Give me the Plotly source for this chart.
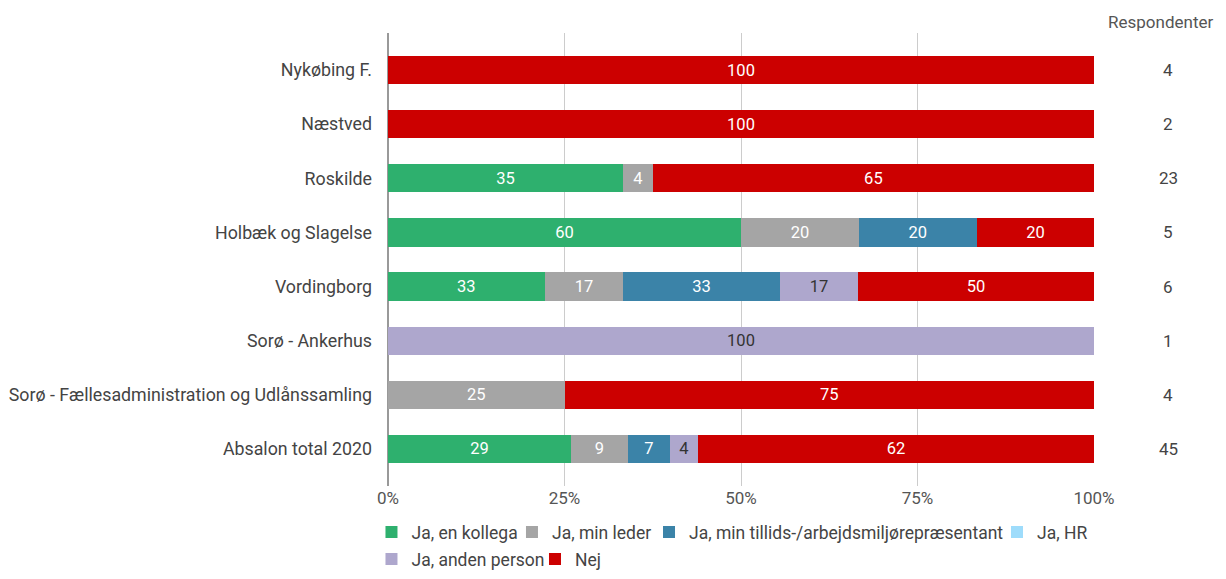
import plotly.graph_objects as go

# Categories (top to bottom)
units = ['Nykøbing F.', 'Næstved', 'Roskilde', 'Holbæk og Slagelse', 'Vordingborg',
         'Sorø - Ankerhus', 'Sorø - Fællesadministration og Udlånssamling', 'Absalon total 2020']
respondents = [4, 2, 23, 5, 6, 1, 4, 45]

# Bar widths (share of 100) as drawn
kollega = [0, 0, 33.3, 50.0, 22.2, 0, 0, 25.9]
leder = [0, 0, 4.2, 16.7, 11.1, 0, 25.0, 8.1]
tillid = [0, 0, 0, 16.7, 22.2, 0, 0, 5.9]
hr = [0, 0, 0, 0, 0, 0, 0, 0]
anden = [0, 0, 0, 0, 11.1, 100.0, 0, 4.0]
nej = [100.0, 100.0, 62.5, 16.6, 33.4, 0, 75.0, 56.1]

# Labels printed on the bars
kollega_lbl = ['', '', '35', '60', '33', '', '', '29']
leder_lbl = ['', '', '4', '20', '17', '', '25', '9']
tillid_lbl = ['', '', '', '20', '33', '', '', '7']
hr_lbl = ['', '', '', '', '', '', '', '']
anden_lbl = ['', '', '', '', '17', '100', '', '4']
nej_lbl = ['100', '100', '65', '20', '50', '', '75', '62']

x_ticks = [0, 25, 50, 75, 100]
x_tick_text = ['0%', '25%', '50%', '75%', '100%']

# legend rows (container fraction)
row1, row2 = 0.069, 0.021

# name, values, labels, colour, label colour, legend id, legend x, legend y
series = [
    ('Ja, en kollega', kollega, kollega_lbl, '#2eb06e', 'white', 'legend', -0.0234, row1),
    ('Ja, min leder', leder, leder_lbl, '#a5a5a5', 'white', 'legend2', 0.1756, row1),
    ('Ja, min tillids-/arbejdsmiljørepræsentant', tillid, tillid_lbl, '#3b83a8', 'white',
     'legend3', 0.3697, row1),
    ('Ja, HR', hr, hr_lbl, '#9edcfb', '#333333', 'legend4', 0.8626, row1),
    ('Ja, anden person', anden, anden_lbl, '#aea7cd', '#333333', 'legend5', -0.0234, row2),
    ('Nej', nej, nej_lbl, '#cc0000', 'white', 'legend6', 0.2082, row2),
]

fig = go.Figure()
legends = {}
for name, vals, lbls, color, tcolor, leg, lx, ly in series:
    fig.add_bar(
        y=units, x=vals, name=name, orientation='h', legend=leg,
        marker=dict(color=color, line=dict(width=0)),
        text=lbls, textposition='inside', insidetextanchor='middle',
        textangle=0, constraintext='none',
        textfont=dict(family='Roboto', size=16.5, color=tcolor),
        width=0.52,
    )
    legends[leg] = dict(x=lx, y=ly, xref='paper', yref='container',
                        orientation='h', xanchor='left', yanchor='middle',
                        font=dict(size=17.5, color='#444444'),
                        itemwidth=30, bgcolor='rgba(0,0,0,0)')

# Respondent counts on the right
for u, r in zip(units, respondents):
    fig.add_annotation(x=1.105, xref='paper', y=u, yref='y', text=str(r),
                       showarrow=False, xanchor='center',
                       font=dict(family='Roboto', size=17, color='#444444'))
fig.add_annotation(x=1.172, xref='paper', y=1.024, yref='paper', yanchor='middle',
                   text='Respondenter', showarrow=False, xanchor='right',
                   font=dict(family='Roboto', size=17, color='#555555'))

fig.update_layout(
    barmode='stack',
    width=1210, height=563,
    margin=dict(l=380, r=124, t=25, b=85),
    plot_bgcolor='white', paper_bgcolor='white',
    font=dict(family='Roboto', size=17.5, color='#444444'),
    xaxis=dict(range=[0, 100], tickmode='array', tickvals=x_ticks, ticktext=x_tick_text,
               showgrid=True, gridcolor='#cccccc', gridwidth=1,
               zeroline=True, zerolinecolor='#999999', zerolinewidth=2,
               tickfont=dict(size=17, color='#555555'), ticks='', ticklen=0,
               automargin=False),
    yaxis=dict(categoryorder='array', categoryarray=units,
               range=[7.685, -0.685], showgrid=False, zeroline=False,
               ticks='', ticklabelstandoff=15, automargin=False,
               tickfont=dict(size=17.8, color='#444444')),
    showlegend=True,
    **legends,
)

fig.write_html("out.html")
